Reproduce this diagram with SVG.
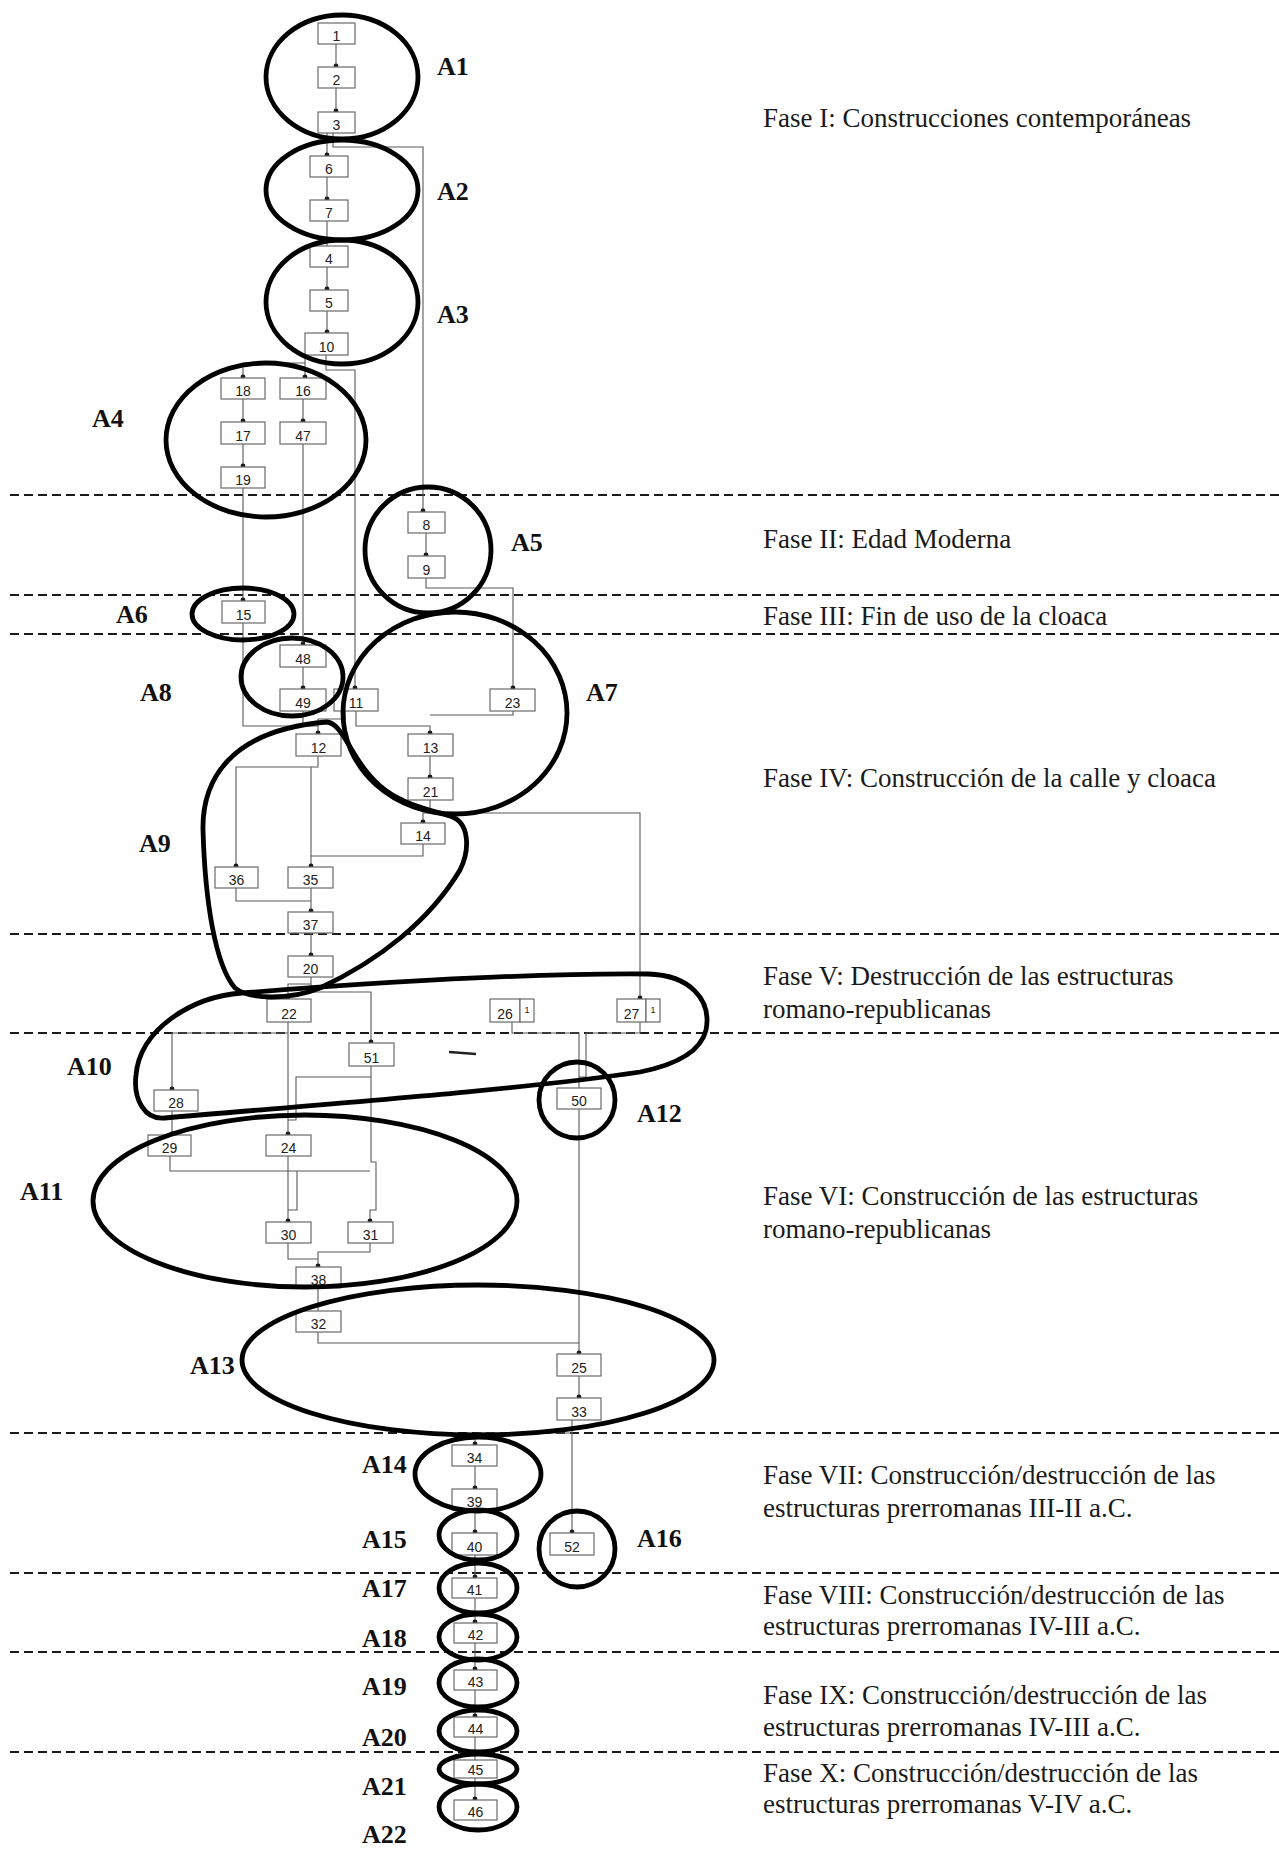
<svg xmlns="http://www.w3.org/2000/svg" width="1279" height="1850" viewBox="0 0 1279 1850">
<style>
.bg{fill:#fff}
.ph{stroke:#1a1a1a;stroke-width:2.2;stroke-dasharray:9 5;fill:none}
.b{fill:#fff;stroke:#6a6a6a;stroke-width:1.2}
.n{font-family:"Liberation Sans",Arial,sans-serif;font-size:14px;fill:#222;text-anchor:middle}
.s{font-family:"Liberation Sans",Arial,sans-serif;font-size:9px;fill:#222;text-anchor:middle}
.c{fill:none;stroke:#5a5a5a;stroke-width:1.1}
.d{fill:#1a1a1a}
.e{fill:none;stroke:#000;stroke-width:4.8}
.l{font-family:"Liberation Serif","Times New Roman",serif;font-size:26px;font-weight:bold;fill:#111}
.t{font-family:"Liberation Serif","Times New Roman",serif;font-size:27px;fill:#1a1a1a}
</style>
<rect class="bg" x="0" y="0" width="1279" height="1850"/>
<g id="phases">
<line class="ph" x1="10" y1="495" x2="1279" y2="495"/>
<line class="ph" x1="10" y1="595" x2="1279" y2="595"/>
<line class="ph" x1="10" y1="634" x2="1279" y2="634"/>
<line class="ph" x1="10" y1="934" x2="1279" y2="934"/>
<line class="ph" x1="10" y1="1033" x2="1279" y2="1033"/>
<line class="ph" x1="10" y1="1433" x2="1279" y2="1433"/>
<line class="ph" x1="10" y1="1573" x2="1279" y2="1573"/>
<line class="ph" x1="10" y1="1652" x2="1279" y2="1652"/>
<line class="ph" x1="10" y1="1752" x2="1279" y2="1752"/>
</g>
<g id="phase-texts">
<text class="t" x="763" y="127">Fase I: Construcciones contemporáneas</text>
<text class="t" x="763" y="548">Fase II: Edad Moderna</text>
<text class="t" x="763" y="625">Fase III: Fin de uso de la cloaca</text>
<text class="t" x="763" y="787">Fase IV: Construcción de la calle y cloaca</text>
<text class="t" x="763" y="985">Fase V: Destrucción de las estructuras</text>
<text class="t" x="763" y="1018">romano-republicanas</text>
<text class="t" x="763" y="1205">Fase VI: Construcción de las estructuras</text>
<text class="t" x="763" y="1238">romano-republicanas</text>
<text class="t" x="763" y="1484">Fase VII: Construcción/destrucción de las</text>
<text class="t" x="763" y="1517">estructuras prerromanas III-II a.C.</text>
<text class="t" x="763" y="1604">Fase VIII: Construcción/destrucción de las</text>
<text class="t" x="763" y="1635">estructuras prerromanas IV-III a.C.</text>
<text class="t" x="763" y="1704">Fase IX: Construcción/destrucción de las</text>
<text class="t" x="763" y="1736">estructuras prerromanas IV-III a.C.</text>
<text class="t" x="763" y="1782">Fase X: Construcción/destrucción de las</text>
<text class="t" x="763" y="1813">estructuras prerromanas V-IV a.C.</text>
</g>
<g id="connectors">
<path class="c" d="M336 44V67M336 88V112"/>
<path class="c" d="M327 133V156M333 133V147H423V512"/>
<path class="c" d="M327 177V200M327 221V246M327 267V290M327 311V333"/>
<path class="c" d="M305 355V378M305 363H243V378"/>
<path class="c" d="M326 355V370H355V689"/>
<path class="c" d="M243 399V422M243 444V467M303 399V422M303 444V645"/>
<path class="c" d="M243 488V601M243 623V726H318"/>
<path class="c" d="M303 667V689M303 711V726"/>
<path class="c" d="M345 711V719H318V734"/>
<path class="c" d="M356 711V726H430V734"/>
<path class="c" d="M426 533V556M426 578V588H513V689"/>
<path class="c" d="M513 711V715H430"/>
<path class="c" d="M430 756V778M430 800V813H640V999M430 813H423V823"/>
<path class="c" d="M318 756V767H236V867M311 767V867"/>
<path class="c" d="M423 844V856H311"/>
<path class="c" d="M236 888V901H311M311 888V912M311 933V956"/>
<path class="c" d="M311 977V984H288V999M311 984V992H371V1043"/>
<path class="c" d="M288 1022V1033H172V1090M288 1022V1135"/>
<path class="c" d="M512 1022V1033H579V1088M640 1022V1033H586V1077H579"/>
<path class="c" d="M371 1066V1077H296V1120H288M371 1066V1162H376V1210H370V1222"/>
<path class="c" d="M172 1111V1135M170 1156V1171H370M297 1171V1210H288"/>
<path class="c" d="M288 1156V1222M288 1243V1259H318M370 1243V1252H318V1267"/>
<path class="c" d="M318 1288V1311M318 1332V1343H579M579 1109V1354M579 1376V1398"/>
<path class="c" d="M572 1420V1433H475V1445M572 1420V1533"/>
<path class="c" d="M475 1466V1489M475 1510V1533M475 1555V1578M475 1598V1623M475 1643V1670M475 1690V1717M475 1737V1760M475 1778V1800"/>
</g>
<g id="dots">
<circle class="d" cx="336" cy="66" r="2.4"/><circle class="d" cx="336" cy="111" r="2.4"/>
<circle class="d" cx="327" cy="155" r="2.4"/><circle class="d" cx="327" cy="199" r="2.4"/>
<circle class="d" cx="327" cy="289" r="2.4"/><circle class="d" cx="327" cy="332" r="2.4"/>
<circle class="d" cx="243" cy="377" r="2.4"/><circle class="d" cx="305" cy="377" r="2.4"/>
<circle class="d" cx="243" cy="421" r="2.4"/><circle class="d" cx="303" cy="421" r="2.4"/>
<circle class="d" cx="243" cy="466" r="2.4"/><circle class="d" cx="423" cy="511" r="2.4"/>
<circle class="d" cx="426" cy="555" r="2.4"/><circle class="d" cx="243" cy="600" r="2.4"/>
<circle class="d" cx="303" cy="644" r="2.4"/><circle class="d" cx="303" cy="688" r="2.4"/>
<circle class="d" cx="355" cy="688" r="2.4"/><circle class="d" cx="513" cy="688" r="2.4"/>
<circle class="d" cx="318" cy="733" r="2.4"/><circle class="d" cx="430" cy="733" r="2.4"/>
<circle class="d" cx="430" cy="777" r="2.4"/><circle class="d" cx="423" cy="822" r="2.4"/>
<circle class="d" cx="236" cy="866" r="2.4"/><circle class="d" cx="311" cy="866" r="2.4"/>
<circle class="d" cx="311" cy="911" r="2.4"/><circle class="d" cx="311" cy="955" r="2.4"/>
<circle class="d" cx="288" cy="998" r="2.4"/><circle class="d" cx="640" cy="998" r="2.4"/>
<circle class="d" cx="371" cy="1042" r="2.4"/><circle class="d" cx="172" cy="1089" r="2.4"/>
<circle class="d" cx="172" cy="1134" r="2.4"/><circle class="d" cx="288" cy="1134" r="2.4"/>
<circle class="d" cx="288" cy="1221" r="2.4"/><circle class="d" cx="370" cy="1221" r="2.4"/>
<circle class="d" cx="318" cy="1266" r="2.4"/><circle class="d" cx="579" cy="1353" r="2.4"/>
<circle class="d" cx="579" cy="1397" r="2.4"/><circle class="d" cx="475" cy="1444" r="2.4"/>
<circle class="d" cx="475" cy="1488" r="2.4"/><circle class="d" cx="475" cy="1532" r="2.4"/>
<circle class="d" cx="572" cy="1532" r="2.4"/><circle class="d" cx="475" cy="1577" r="2.4"/>
<circle class="d" cx="475" cy="1622" r="2.4"/><circle class="d" cx="475" cy="1669" r="2.4"/>
<circle class="d" cx="475" cy="1716" r="2.4"/><circle class="d" cx="475" cy="1799" r="2.4"/>
</g>
<g id="units">
<g id="u1"><rect class="b" x="318" y="23" width="37" height="21"/><text class="n" x="336.5" y="41">1</text></g>
<g id="u2"><rect class="b" x="318" y="67" width="37" height="21"/><text class="n" x="336.5" y="85">2</text></g>
<g id="u3"><rect class="b" x="318" y="112" width="37" height="21"/><text class="n" x="336.5" y="130">3</text></g>
<g id="u6"><rect class="b" x="310" y="156" width="38" height="21"/><text class="n" x="329" y="174">6</text></g>
<g id="u7"><rect class="b" x="310" y="200" width="38" height="21"/><text class="n" x="329" y="218">7</text></g>
<g id="u4"><rect class="b" x="310" y="246" width="38" height="21"/><text class="n" x="329" y="264">4</text></g>
<g id="u5"><rect class="b" x="310" y="290" width="38" height="21"/><text class="n" x="329" y="308">5</text></g>
<g id="u10"><rect class="b" x="305" y="333" width="43" height="22"/><text class="n" x="326.5" y="352">10</text></g>
<g id="u18"><rect class="b" x="221" y="378" width="44" height="21"/><text class="n" x="243" y="396">18</text></g>
<g id="u16"><rect class="b" x="280" y="378" width="46" height="21"/><text class="n" x="303" y="396">16</text></g>
<g id="u17"><rect class="b" x="221" y="422" width="44" height="22"/><text class="n" x="243" y="441">17</text></g>
<g id="u47"><rect class="b" x="280" y="422" width="46" height="22"/><text class="n" x="303" y="441">47</text></g>
<g id="u19"><rect class="b" x="221" y="467" width="44" height="21"/><text class="n" x="243" y="485">19</text></g>
<g id="u8"><rect class="b" x="408" y="512" width="37" height="21"/><text class="n" x="426.5" y="530">8</text></g>
<g id="u9"><rect class="b" x="408" y="556" width="37" height="22"/><text class="n" x="426.5" y="575">9</text></g>
<g id="u15"><rect class="b" x="222" y="601" width="43" height="22"/><text class="n" x="243.5" y="620">15</text></g>
<g id="u48"><rect class="b" x="280" y="645" width="46" height="22"/><text class="n" x="303" y="664">48</text></g>
<g id="u49"><rect class="b" x="280" y="689" width="46" height="22"/><text class="n" x="303" y="708">49</text></g>
<g id="u11"><rect class="b" x="334" y="689" width="44" height="22"/><text class="n" x="356" y="708">11</text></g>
<g id="u23"><rect class="b" x="490" y="689" width="45" height="22"/><text class="n" x="512.5" y="708">23</text></g>
<g id="u12"><rect class="b" x="296" y="734" width="45" height="22"/><text class="n" x="318.5" y="753">12</text></g>
<g id="u13"><rect class="b" x="408" y="734" width="45" height="22"/><text class="n" x="430.5" y="753">13</text></g>
<g id="u21"><rect class="b" x="408" y="778" width="45" height="22"/><text class="n" x="430.5" y="797">21</text></g>
<g id="u14"><rect class="b" x="401" y="823" width="44" height="21"/><text class="n" x="423" y="841">14</text></g>
<g id="u36"><rect class="b" x="215" y="867" width="43" height="21"/><text class="n" x="236.5" y="885">36</text></g>
<g id="u35"><rect class="b" x="288" y="867" width="45" height="21"/><text class="n" x="310.5" y="885">35</text></g>
<g id="u37"><rect class="b" x="288" y="912" width="45" height="21"/><text class="n" x="310.5" y="930">37</text></g>
<g id="u20"><rect class="b" x="288" y="956" width="45" height="21"/><text class="n" x="310.5" y="974">20</text></g>
<g id="u22"><rect class="b" x="267" y="999" width="44" height="23"/><text class="n" x="289" y="1019">22</text></g>
<g id="u26"><rect class="b" x="490" y="999" width="30" height="23"/><rect class="b" x="520" y="999" width="14" height="23"/><text class="n" x="505" y="1019">26</text><text class="s" x="527" y="1013">1</text></g>
<g id="u27"><rect class="b" x="617" y="999" width="29" height="23"/><rect class="b" x="646" y="999" width="14" height="23"/><text class="n" x="631.5" y="1019">27</text><text class="s" x="653" y="1013">1</text></g>
<g id="u51"><rect class="b" x="349" y="1043" width="45" height="23"/><text class="n" x="371.5" y="1063">51</text></g>
<g id="u28"><rect class="b" x="154" y="1090" width="44" height="21"/><text class="n" x="176" y="1108">28</text></g>
<g id="u50"><rect class="b" x="557" y="1088" width="44" height="21"/><text class="n" x="579" y="1106">50</text></g>
<g id="u29"><rect class="b" x="148" y="1135" width="43" height="21"/><text class="n" x="169.5" y="1153">29</text></g>
<g id="u24"><rect class="b" x="266" y="1135" width="45" height="21"/><text class="n" x="288.5" y="1153">24</text></g>
<g id="u30"><rect class="b" x="266" y="1222" width="45" height="21"/><text class="n" x="288.5" y="1240">30</text></g>
<g id="u31"><rect class="b" x="348" y="1222" width="45" height="21"/><text class="n" x="370.5" y="1240">31</text></g>
<g id="u38"><rect class="b" x="296" y="1267" width="45" height="21"/><text class="n" x="318.5" y="1285">38</text></g>
<g id="u32"><rect class="b" x="296" y="1311" width="45" height="21"/><text class="n" x="318.5" y="1329">32</text></g>
<g id="u25"><rect class="b" x="557" y="1354" width="44" height="22"/><text class="n" x="579" y="1373">25</text></g>
<g id="u33"><rect class="b" x="557" y="1398" width="44" height="22"/><text class="n" x="579" y="1417">33</text></g>
<g id="u34"><rect class="b" x="452" y="1445" width="45" height="21"/><text class="n" x="474.5" y="1463">34</text></g>
<g id="u39"><rect class="b" x="452" y="1489" width="45" height="21"/><text class="n" x="474.5" y="1507">39</text></g>
<g id="u40"><rect class="b" x="452" y="1533" width="45" height="22"/><text class="n" x="474.5" y="1552">40</text></g>
<g id="u52"><rect class="b" x="550" y="1533" width="44" height="22"/><text class="n" x="572" y="1552">52</text></g>
<g id="u41"><rect class="b" x="452" y="1578" width="45" height="20"/><text class="n" x="474.5" y="1595">41</text></g>
<g id="u42"><rect class="b" x="454" y="1623" width="43" height="20"/><text class="n" x="475.5" y="1640">42</text></g>
<g id="u43"><rect class="b" x="454" y="1670" width="43" height="20"/><text class="n" x="475.5" y="1687">43</text></g>
<g id="u44"><rect class="b" x="454" y="1717" width="43" height="20"/><text class="n" x="475.5" y="1734">44</text></g>
<g id="u45"><rect class="b" x="454" y="1760" width="43" height="18"/><text class="n" x="475.5" y="1775">45</text></g>
<g id="u46"><rect class="b" x="454" y="1800" width="43" height="20"/><text class="n" x="475.5" y="1817">46</text></g>
</g>
<g id="groups">
<g id="A1"><ellipse class="e" cx="342" cy="77" rx="76" ry="62"/><text class="l" x="437" y="75">A1</text></g>
<g id="A2"><ellipse class="e" cx="342" cy="190" rx="76" ry="50"/><text class="l" x="437" y="200">A2</text></g>
<g id="A3"><ellipse class="e" cx="342" cy="302" rx="76" ry="62"/><text class="l" x="437" y="323">A3</text></g>
<g id="A4"><ellipse class="e" cx="266" cy="440" rx="100" ry="77"/><text class="l" x="92" y="427">A4</text></g>
<g id="A5"><ellipse class="e" cx="428" cy="550" rx="63" ry="63"/><text class="l" x="511" y="551">A5</text></g>
<g id="A6"><ellipse class="e" cx="243" cy="614" rx="51" ry="26"/><text class="l" x="116" y="623">A6</text></g>
<g id="A7"><ellipse class="e" cx="455" cy="713" rx="112" ry="101"/><text class="l" x="586" y="701">A7</text></g>
<g id="A8"><ellipse class="e" cx="292" cy="677" rx="51" ry="39"/><text class="l" x="140" y="701">A8</text></g>
<g id="A9"><path class="e" d="M327 722C345 724 352 765 385 790C405 805 430 810 450 816C470 822 470 850 460 870C430 920 380 960 320 988C290 1000 250 1000 235 988C215 965 205 900 203 830C202 780 230 730 327 722Z"/><text class="l" x="139" y="852">A9</text></g>
<g id="A10"><path class="e" d="M242 993C380 982 520 973 648 974C690 975 712 1000 706 1030C700 1055 670 1066 640 1072C520 1090 300 1106 165 1118C145 1120 133 1100 136 1075C140 1030 190 997 242 993Z"/><text class="l" x="67" y="1075">A10</text></g>
<g id="A11"><ellipse class="e" cx="305" cy="1201" rx="212" ry="86"/><text class="l" x="20" y="1200">A11</text></g>
<g id="A12"><circle class="e" cx="577" cy="1100" r="38"/><text class="l" x="637" y="1122">A12</text></g>
<g id="A13"><ellipse class="e" cx="478" cy="1360" rx="236" ry="75"/><text class="l" x="190" y="1374">A13</text></g>
<g id="A14"><ellipse class="e" cx="478" cy="1474" rx="63" ry="37"/><text class="l" x="362" y="1473">A14</text></g>
<g id="A15"><ellipse class="e" cx="478" cy="1535" rx="39" ry="25"/><text class="l" x="362" y="1548">A15</text></g>
<g id="A16"><circle class="e" cx="577" cy="1549" r="38"/><text class="l" x="637" y="1547">A16</text></g>
<g id="A17"><ellipse class="e" cx="478" cy="1588" rx="39" ry="25"/><text class="l" x="362" y="1597">A17</text></g>
<g id="A18"><ellipse class="e" cx="478" cy="1637" rx="39" ry="23"/><text class="l" x="362" y="1647">A18</text></g>
<g id="A19"><ellipse class="e" cx="478" cy="1683" rx="39" ry="24"/><text class="l" x="362" y="1695">A19</text></g>
<g id="A20"><ellipse class="e" cx="478" cy="1731" rx="39" ry="21"/><text class="l" x="362" y="1746">A20</text></g>
<g id="A21"><ellipse class="e" cx="478" cy="1769" rx="39" ry="15"/><text class="l" x="362" y="1795">A21</text></g>
<g id="A22"><ellipse class="e" cx="478" cy="1807" rx="39" ry="23"/><text class="l" x="362" y="1843">A22</text></g>
</g>
<path d="M449 1052L476 1054" stroke="#222" stroke-width="2.5" fill="none"/>
</svg>
